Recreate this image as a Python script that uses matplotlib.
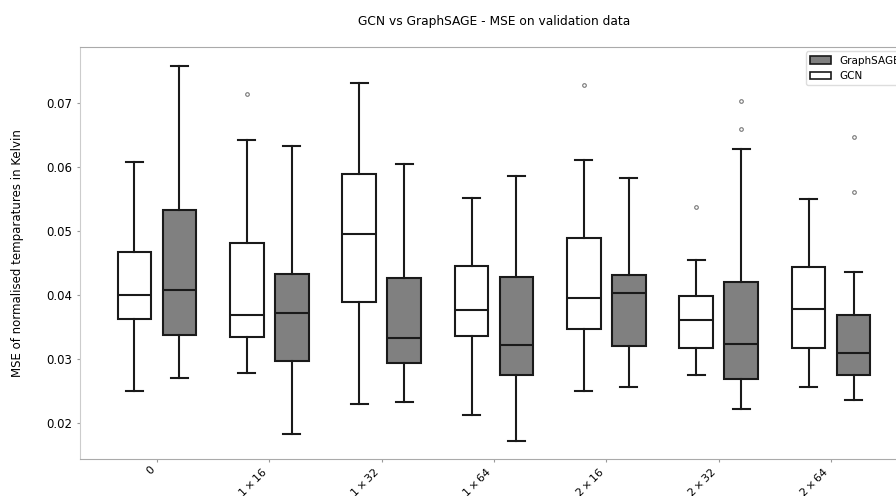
import matplotlib
matplotlib.use("Agg")
import matplotlib.pyplot as plt
from matplotlib.patches import Patch

# configurations on the x axis
configs = ["0", r"$1 \times 16$", r"$1 \times 32$", r"$1 \times 64$",
           r"$2 \times 16$", r"$2 \times 32$", r"$2 \times 64$"]

# box summaries: lower whisker, Q1, median, Q3, upper whisker
gcn_low = [0.0250, 0.0279, 0.0230, 0.0213, 0.0250, 0.0276, 0.0256]
gcn_q1 = [0.0363, 0.0335, 0.0389, 0.0337, 0.0347, 0.0317, 0.0318]
gcn_med = [0.0400, 0.0370, 0.0496, 0.0377, 0.0396, 0.0361, 0.0379]
gcn_q3 = [0.0467, 0.0482, 0.0590, 0.0445, 0.0490, 0.0399, 0.0444]
gcn_high = [0.0609, 0.0643, 0.0732, 0.0552, 0.0611, 0.0455, 0.0551]
gcn_fliers = [[], [0.0714], [], [], [0.0728], [0.0538], []]

sage_low = [0.0270, 0.0183, 0.0233, 0.0173, 0.0256, 0.0223, 0.0236]
sage_q1 = [0.0338, 0.0298, 0.0294, 0.0275, 0.0320, 0.0269, 0.0276]
sage_med = [0.0409, 0.0372, 0.0333, 0.0322, 0.0403, 0.0324, 0.0310]
sage_q3 = [0.0533, 0.0434, 0.0427, 0.0428, 0.0431, 0.0420, 0.0369]
sage_high = [0.0758, 0.0634, 0.0605, 0.0587, 0.0584, 0.0629, 0.0437]
sage_fliers = [[], [], [], [], [], [0.0704, 0.0660], [0.0648, 0.0562]]


def make_stats(low, q1, med, q3, high, fliers):
    return [dict(whislo=a, q1=b, med=c, q3=d, whishi=e, fliers=f)
            for a, b, c, d, e, f in zip(low, q1, med, q3, high, fliers)]


gcn_stats = make_stats(gcn_low, gcn_q1, gcn_med, gcn_q3, gcn_high, gcn_fliers)
sage_stats = make_stats(sage_low, sage_q1, sage_med, sage_q3, sage_high, sage_fliers)

fig = plt.figure(figsize=(8.96, 4.96), dpi=100)
ax = fig.add_axes([80 / 896, 1 - 459.3 / 496, 828 / 896, 412 / 496])

line = dict(color="#1a1a1a", linewidth=1.5)
flier = dict(marker="o", markersize=2.6, markerfacecolor="none",
             markeredgecolor="#777777", markeredgewidth=0.8)


def draw(stats, offset, fill):
    pos = [2 * i + offset for i in range(len(stats))]
    bp = ax.bxp(stats, positions=pos, widths=0.6, patch_artist=True,
                boxprops=dict(facecolor=fill, edgecolor="#1a1a1a", linewidth=1.5),
                whiskerprops=line, capprops=line, medianprops=line,
                flierprops=flier, manage_ticks=False)
    return bp


draw(gcn_stats, -0.4, "white")
draw(sage_stats, 0.4, "#808080")

ax.set_xticks([2 * i for i in range(len(configs))])
ax.set_xticklabels(configs, rotation=45, ha="right", fontsize=8)
ax.set_xlim(-1.37, 13.37)
ax.set_ylim(0.014375, 0.07875)
ax.set_yticks([0.02, 0.03, 0.04, 0.05, 0.06, 0.07])
ax.tick_params(axis="y", labelsize=8.5, length=2, color="#999999")
ax.tick_params(axis="x", length=2, color="#999999", pad=2)
for s in ax.spines.values():
    s.set_color("#aaaaaa")
ax.spines["left"].set_color("#cccccc")

ax.set_ylabel("MSE of normalised temparatures in Kelvin", fontsize=8.5, labelpad=16)
ax.set_title("GCN vs GraphSAGE - MSE on validation data", fontsize=8.8, pad=16)

handles = [Patch(facecolor="#808080", edgecolor="#1a1a1a", linewidth=1.2, label="GraphSAGE"),
           Patch(facecolor="white", edgecolor="#1a1a1a", linewidth=1.2, label="GCN")]
ax.legend(handles=handles, loc="upper right", fontsize=7.5, handlelength=2.0,
          borderaxespad=0.4, framealpha=1, edgecolor="#dddddd")

fig.savefig("out.png", dpi=100)
